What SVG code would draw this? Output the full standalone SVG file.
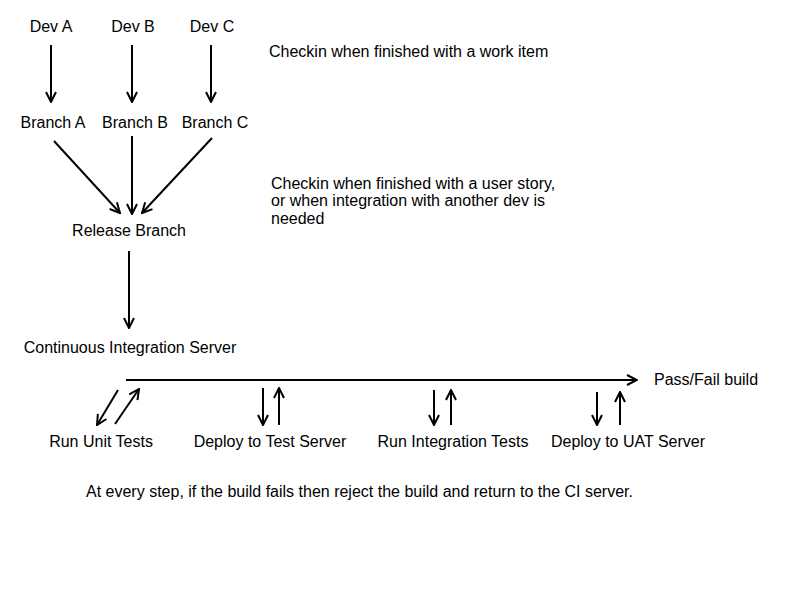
<svg xmlns="http://www.w3.org/2000/svg" width="800" height="600" viewBox="0 0 800 600">
<style>
text{font-family:"Liberation Sans",Arial,sans-serif;font-size:16px;fill:#000}
.c{text-anchor:middle}
.e{stroke:#000;stroke-width:2;fill:none}
</style>
<defs>
<marker id="ah" viewBox="0 0 12 12" refX="11" refY="6" markerWidth="12" markerHeight="12" markerUnits="userSpaceOnUse" orient="auto">
<path d="M1,1 L11,6 L1,11" fill="none" stroke="#000" stroke-width="2"/>
</marker>
</defs>
<rect width="800" height="600" fill="#fff"/>
<g id="devA"><text class="c" x="51" y="32">Dev A</text></g>
<g id="devB"><text class="c" x="133" y="32">Dev B</text></g>
<g id="devC"><text class="c" x="212" y="32">Dev C</text></g>
<g id="branchA"><text class="c" x="53" y="128">Branch A</text></g>
<g id="branchB"><text class="c" x="135" y="128">Branch B</text></g>
<g id="branchC"><text class="c" x="215" y="128">Branch C</text></g>
<g id="release"><text class="c" x="129" y="236">Release Branch</text></g>
<g id="ci"><text class="c" x="130" y="353">Continuous Integration Server</text></g>
<g id="passfail"><text x="654" y="385">Pass/Fail build</text></g>
<g id="unit"><text class="c" x="101" y="447">Run Unit Tests</text></g>
<g id="deployTest"><text class="c" x="270" y="447">Deploy to Test Server</text></g>
<g id="integ"><text class="c" x="453" y="447">Run Integration Tests</text></g>
<g id="uat"><text class="c" x="628" y="447">Deploy to UAT Server</text></g>
<g id="note1"><text x="269" y="57">Checkin when finished with a work item</text></g>
<g id="note2"><text x="271" y="189">Checkin when finished with a user story,</text><text x="271" y="206">or when integration with another dev is</text><text x="271" y="224">needed</text></g>
<g id="note3"><text x="86" y="497">At every step, if the build fails then reject the build and return to the CI server.</text></g>
<g id="connectors" class="e" marker-end="url(#ah)">
<line class="e" x1="51" y1="45" x2="51" y2="102" marker-end="url(#ah)"/>
<line class="e" x1="132" y1="45" x2="132" y2="102" marker-end="url(#ah)"/>
<line class="e" x1="211" y1="45" x2="211" y2="102" marker-end="url(#ah)"/>
<line class="e" x1="54" y1="141" x2="120" y2="213" marker-end="url(#ah)"/>
<line class="e" x1="132" y1="136" x2="132" y2="214" marker-end="url(#ah)"/>
<line class="e" x1="212" y1="138" x2="142" y2="213" marker-end="url(#ah)"/>
<line class="e" x1="129" y1="251" x2="129" y2="328" marker-end="url(#ah)"/>
<line class="e" x1="126" y1="380" x2="637" y2="380" marker-end="url(#ah)"/>
<line class="e" x1="118" y1="390" x2="97" y2="425" marker-end="url(#ah)"/>
<line class="e" x1="115" y1="424" x2="139" y2="389" marker-end="url(#ah)"/>
<line class="e" x1="263" y1="388" x2="263" y2="425" marker-end="url(#ah)"/>
<line class="e" x1="279" y1="425" x2="279" y2="388" marker-end="url(#ah)"/>
<line class="e" x1="434" y1="390" x2="434" y2="425" marker-end="url(#ah)"/>
<line class="e" x1="451" y1="425" x2="451" y2="390" marker-end="url(#ah)"/>
<line class="e" x1="597" y1="392" x2="597" y2="425" marker-end="url(#ah)"/>
<line class="e" x1="620" y1="425" x2="620" y2="392" marker-end="url(#ah)"/>
</g>
</svg>
